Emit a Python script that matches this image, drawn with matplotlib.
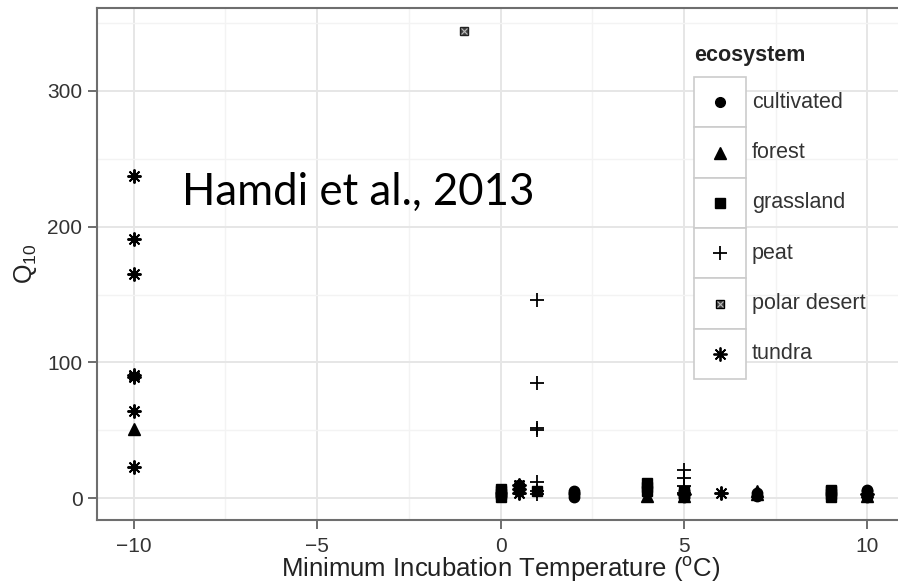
import matplotlib
matplotlib.use("Agg")
import matplotlib.pyplot as plt
from matplotlib.lines import Line2D
from matplotlib.patches import Rectangle

# Q10 values, by ecosystem
cult_x = [0, 0, 0.5, 0.5, 0.5, 2, 2, 2, 2, 5, 5, 5, 7, 7, 10, 10, 10, 10]
cult_y = [2, 4, 5, 8, 10, 1, 3, 4, 5, 1, 3, 5, 2, 4, 1, 3, 5, 6]
forest_x = [-10, 4, 5, 7, 7, 10, 10]
forest_y = [51, 2, 2, 3, 5, 2, 5]
grass_x = [0, 0, 0, 0, 1, 4, 4, 4, 5, 5, 9, 9, 9, 9]
grass_y = [1, 3, 5, 7, 5, 5, 8, 11, 3, 5, 1, 3, 5, 6]
peat_x = [1, 1, 1, 1, 1, 1, 1, 5, 5, 5, 5]
peat_y = [146, 85, 52, 50, 12, 5, 3, 21, 15, 9, 4]
polar_x = [-1]
polar_y = [344]
tundra_x = [-10, -10, -10, -10, -10, -10, -10, 0.5, 0.5, 0.5, 5, 6, 10]
tundra_y = [237, 191, 165, 91, 89, 64, 23, 7, 10, 4, 3, 4, 3]

labels = ["cultivated", "forest", "grassland", "peat", "polar desert", "tundra"]
xticks = [-10, -5, 0, 5, 10]
yticks = [0, 100, 200, 300]

W, H = 898, 585
fig = plt.figure(figsize=(W / 100, H / 100), dpi=100)
ax = fig.add_axes([97 / W, 1 - 520 / H, (904 - 97) / W, (520 - 8) / H])

ax.set_xlim(-11, 11)
ax.set_ylim(-16, 361)
ax.set_xticks(xticks)
ax.set_yticks(yticks)
ax.set_xticks([-7.5, -2.5, 2.5, 7.5], minor=True)
ax.set_yticks([50, 150, 250, 350], minor=True)
ax.grid(True, which="major", color="#e6e6e6", lw=1.4)
ax.grid(True, which="minor", color="#f3f3f3", lw=1.0)
ax.set_axisbelow(True)
for s in ax.spines.values():
    s.set_color("#6e6e6e")
    s.set_linewidth(1.5)
ax.tick_params(which="major", length=6.5, width=1.2, color="#555555",
               labelsize=15, labelcolor="#333333")
ax.tick_params(axis="x", pad=6)
ax.tick_params(axis="y", pad=4)
ax.tick_params(which="minor", length=0)
for t in ax.get_xticklabels() + ax.get_yticklabels():
    t.set_family("Liberation Sans")

# markers
ms = dict(color="black", linestyle="none")
ax.plot(cult_x, cult_y, marker="o", markersize=7.5, **ms)
ax.plot(forest_x, forest_y, marker="^", markersize=8.5, **ms)
ax.plot(grass_x, grass_y, marker="s", markersize=7.5, **ms)
ax.plot(peat_x, peat_y, marker="+", markersize=10, markeredgewidth=1.3, **ms)
ax.plot(polar_x, polar_y, marker="s", markersize=5.5, markerfacecolor="#444444",
        markeredgecolor="#222222", linestyle="none")
ax.plot(polar_x, polar_y, marker="x", markersize=4, markeredgewidth=0.8,
        color="#bbbbbb", linestyle="none")
ax.plot(tundra_x, tundra_y, marker=(8, 2, 0), markersize=10, markeredgewidth=1.4, **ms)

ax.set_xlabel(r"Minimum Incubation Temperature ($\mathregular{^o}$C)",
              family="Liberation Sans", fontsize=18.5, color="#222222", labelpad=-1)
ax.set_ylabel(r"$\mathregular{Q_{10}}$", family="Liberation Sans", fontsize=18,
              color="#222222", labelpad=6)

ax.text(182 / W, 1 - 205 / H, "Hamdi et al., 2013", transform=fig.transFigure,
        family="Lato", fontsize=31.5, color="black", va="baseline", ha="left")

# legend, drawn by hand in pixel positions
def fx(x):
    return x / W

def fy(y):
    return 1 - y / H

fig.text(fx(694), fy(55), "ecosystem", family="Liberation Sans", fontsize=15.5,
         fontweight="bold", color="#222222", va="center", ha="left")
key_style = [
    dict(marker="o", markersize=7),
    dict(marker="^", markersize=8),
    dict(marker="s", markersize=7),
    dict(marker="+", markersize=10, markeredgewidth=1.3),
    dict(marker="s", markersize=5.5, markerfacecolor="#444444"),
    dict(marker=(8, 2, 0), markersize=10, markeredgewidth=1.3),
]
key_h = (379 - 77) / 6
for i, lab in enumerate(labels):
    top = 77 + i * key_h
    fig.add_artist(Rectangle((fx(694), fy(top + key_h)), fx(746) - fx(694),
                             fy(top) - fy(top + key_h), transform=fig.transFigure,
                             facecolor="white", edgecolor="#cccccc", lw=1.2))
    cy = fy(top + key_h / 2)
    fig.add_artist(Line2D([fx(720)], [cy], transform=fig.transFigure,
                          color="black", linestyle="none", **key_style[i]))
    if lab == "polar desert":
        fig.add_artist(Line2D([fx(720)], [cy], transform=fig.transFigure,
                              marker="x", markersize=4, markeredgewidth=0.8,
                              color="#bbbbbb", linestyle="none"))
    fig.text(fx(752), cy, lab, family="Liberation Sans", fontsize=15.5,
             color="#333333", va="center", ha="left")

fig.savefig("out.png", dpi=100)
